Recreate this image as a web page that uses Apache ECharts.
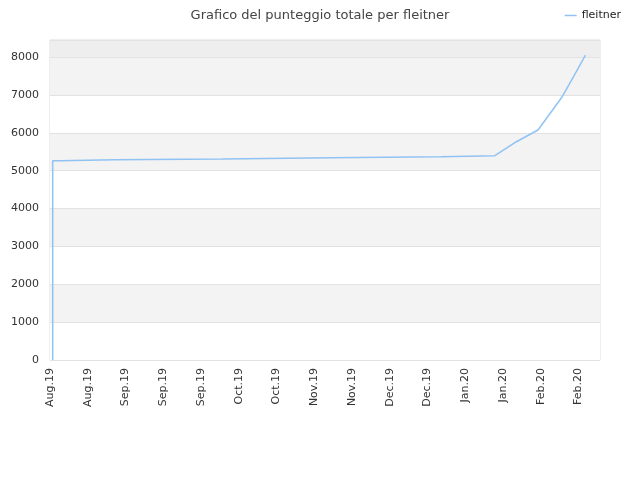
<!DOCTYPE html>
<html>
<head>
<meta charset="utf-8">
<script src="https://cdn.jsdelivr.net/npm/echarts@6/dist/echarts.min.js"></script>
<style>
	html, body { margin: 0; padding: 0; background: #fff; }
	#chart { width: 640px; height: 480px; }
</style>
</head>
<body>
<div id="chart"></div>
<script>
// giorni dal 5 agosto 2019
var startDate = Date.UTC(2019, 7, 5);
var days   = [1, 1,    3.5,  3.5,  24,   24,   64,   64,   104,  104,  145,  145,  165,  173,  181,  190,  194.5, 198.6];
var scores = [0, 5262, 5262, 5290, 5290, 5307, 5307, 5341, 5341, 5368, 5368, 5394, 5394, 5764, 6073, 6952, 7525,  8053];
var monthNames = ['Jan', 'Feb', 'Mar', 'Apr', 'May', 'Jun', 'Jul', 'Aug', 'Sep', 'Oct', 'Nov', 'Dec'];
var bandColors = ['#ffffff', '#f3f3f3', '#ffffff', '#f3f3f3', '#ffffff', '#f3f3f3', '#ffffff', '#f3f3f3', '#eeeeee'];

var font = 'DejaVu Sans';
var points = days.map(function(d, i) { return [d, scores[i]]; });

var option = {
	animation: false,
	textStyle: { fontFamily: font },
	title: {
		text: 'Grafico del punteggio totale per fleitner',
		left: 'center',
		top: 4,
		textStyle: { fontSize: 13, fontWeight: 'normal', color: '#444', fontFamily: font }
	},
	legend: {
		right: 14,
		top: 5,
		icon: 'rect',
		itemWidth: 12,
		itemHeight: 1.5,
		itemGap: 6,
		textStyle: { fontSize: 11, color: '#222', fontFamily: font },
		data: ['fleitner']
	},
	grid: {
		left: 50,
		right: 40,
		top: 40,
		bottom: 120,
		show: true,
		borderColor: '#dddddd',
		borderWidth: 1
	},
	xAxis: {
		type: 'value',
		min: 0,
		max: 204,
		interval: 14,
		axisLine: { show: false },
		axisTick: { show: false },
		splitLine: { show: false },
		axisLabel: {
			rotate: 90,
			margin: 8,
			fontSize: 11,
			color: '#333',
			fontFamily: font,
			showMaxLabel: false,
			formatter: function(v) {
				var d = new Date(startDate + v * 86400000);
				return monthNames[d.getUTCMonth()] + '.' + String(d.getUTCFullYear()).slice(2);
			}
		}
	},
	yAxis: {
		type: 'value',
		min: 0,
		max: 8450,
		interval: 1000,
		axisLine: { show: false },
		axisTick: { show: false },
		axisLabel: {
			showMaxLabel: false,
			fontSize: 11,
			color: '#333',
			margin: 11,
			fontFamily: font,
			formatter: function(v) { return String(v); }
		},
		splitLine: { lineStyle: { color: '#e2e2e2', width: 1 } },
		splitArea: { show: true, areaStyle: { color: bandColors } }
	},
	series: [{
		name: 'fleitner',
		type: 'line',
		data: points,
		showSymbol: false,
		symbol: 'none',
		lineStyle: { color: '#90c3f3', width: 1.5 },
		itemStyle: { color: '#90c3f3' }
	}]
};

var myChart = echarts.init(document.getElementById('chart'));
myChart.setOption(option);
</script>
</body>
</html>
